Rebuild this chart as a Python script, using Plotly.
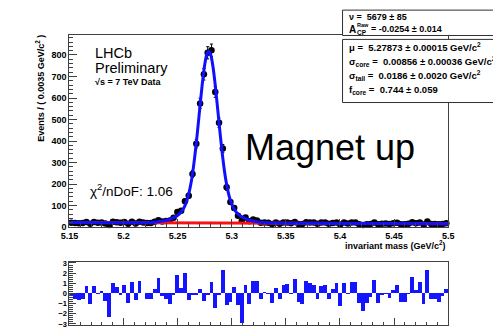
import plotly.graph_objects as go

W, H = 493, 330

# ---------------- data ----------------
bin_lo = 5.15
bin_width = 0.0035
counts = [20, 19, 18, 19, 24, 16, 24, 20, 22, 17,
          10, 25, 23, 20, 24, 16, 25, 17, 25, 21,
          19, 19, 25, 32, 26, 28, 31, 44, 70, 76,
          120, 146, 247, 388, 575, 710, 810, 822, 628, 485,
          365, 185, 117, 89, 53, 28, 45, 27, 35, 31,
          20, 21, 20, 15, 21, 16, 22, 22, 18, 24,
          15, 14, 23, 22, 21, 16, 21, 21, 16, 19,
          22, 12, 22, 17, 22, 22, 13, 10, 13, 15,
          22, 13, 16, 17, 15, 18, 20, 13, 13, 16,
          23, 18, 21, 12, 26, 14, 14, 13, 15, 18]
residuals = [-0.15, -0.5, -0.6, -0.5, 0.75, -1.0, 0.75, -0.1, 0.25, -0.7,
             -2.3, 1.0, 0.65, -0.15, 0.85, -0.9, 1.1, -0.65, 1.2, 0.0,
             -0.55, -0.5, 0.4, 1.5, -0.3, -0.5, -1.0, -0.15, 1.8, 0.5,
             2.0, -0.65, -0.15, -0.15, 0.4, -0.7, -0.2, 1.15, -1.45, -0.15,
             2.35, -1.1, -0.8, 0.65, -1.1, -2.9, 0.8, -1.0, 1.2, 1.2,
             -0.5, 0.15, -0.05, -0.9, 0.5, -0.5, 0.8, 0.9, -0.1, 1.4,
             -0.8, -1.0, 1.2, 1.0, 0.8, -0.5, 0.7, 0.8, -0.5, 0.4,
             1.05, -1.25, 1.05, -0.1, 1.1, 1.1, -0.9, -1.7, -0.9, -0.4,
             1.3, -0.9, -0.15, -0.05, -0.45, 0.3, 0.8, -0.8, -0.8, -0.05,
             1.6, 0.3, 1.15, -1.0, 2.35, -0.55, -0.55, -0.8, -0.3, 0.4]
centers = [bin_lo + bin_width * (i + 0.5) for i in range(len(counts))]
errors = [c ** 0.5 for c in counts]

fit_x = [5.15, 5.18, 5.21, 5.2187, 5.2237, 5.2287, 5.2337, 5.2387, 5.2427, 5.2467,
         5.2507, 5.2527, 5.2547, 5.2567, 5.2587, 5.2607, 5.2627, 5.2647, 5.2667, 5.2687,
         5.2707, 5.2727, 5.2747, 5.2767, 5.2787, 5.2807, 5.2827, 5.2847, 5.2867, 5.2887,
         5.2907, 5.2927, 5.2947, 5.2967, 5.2987, 5.3007, 5.3027, 5.3047, 5.3067, 5.3107,
         5.3147, 5.3187, 5.3237, 5.3287, 5.3337, 5.3387, 5.36, 5.40, 5.45, 5.5]
fit_y = [21.0, 20.6, 20.1, 20.6, 21.3, 22.7, 25.7, 30.5, 36.5, 45.1,
         57.6, 67.4, 80.5, 99.1, 125.4, 163.4, 214.4, 282.4, 366.3, 462.3,
         564.3, 662.2, 744.2, 798.2, 817.1, 798.1, 744.1, 662.0, 564.0, 462.0,
         366.0, 281.9, 213.9, 162.9, 124.8, 98.4, 79.8, 66.7, 56.7, 44.2,
         35.4, 29.4, 24.4, 21.3, 19.8, 18.9, 18.0, 17.4, 16.7, 16.0]
bkg_x = [5.15, 5.5]
bkg_y = [21.0, 16.0]

x_tickvals = [5.15, 5.2, 5.25, 5.3, 5.35, 5.4, 5.45, 5.5]
x_ticktext = ["5.15", "5.2", "5.25", "5.3", "5.35", "5.4", "5.45", "5.5"]
y_tickvals = [0, 100, 200, 300, 400, 500, 600, 700, 800]
r_tickvals = [-3, -2, -1, 0, 1, 2, 3]

# ---------------- helpers (layout) ----------------
def px(x):
    return x / W

def py(y):
    return 1 - y / H

FONT = "Liberation Sans, Arial, Helvetica, sans-serif"
tickfont = dict(family=FONT, size=9, color="black", weight="bold")
FRAME = "#404040"

fig = go.Figure()

fig.add_trace(go.Scatter(
    x=centers, y=counts, mode="markers",
    marker=dict(color="black", size=6.5),
    error_y=dict(type="data", array=errors, color="black", thickness=1, width=1.5),
    xaxis="x", yaxis="y", showlegend=False, cliponaxis=False))
fig.add_trace(go.Scatter(
    x=bkg_x, y=bkg_y, mode="lines", line=dict(color="#ff1010", width=3),
    xaxis="x", yaxis="y", showlegend=False))
fig.add_trace(go.Scatter(
    x=fit_x, y=fit_y, mode="lines", line=dict(color="#1010ff", width=3, shape="spline", smoothing=0.6),
    xaxis="x", yaxis="y", showlegend=False))

fig.add_trace(go.Bar(
    x=centers, y=residuals, width=bin_width,
    marker=dict(color="#1414ff", line=dict(width=0)),
    xaxis="x2", yaxis="y2", showlegend=False))

xd = [px(62.3), px(453)]
common_axis = dict(showgrid=False, zeroline=False, showline=True, linecolor=FRAME,
                   linewidth=1, mirror=True, ticks="inside", tickcolor=FRAME,
                   tickfont=tickfont)

fig.update_layout(
    width=W, height=H,
    margin=dict(l=0, r=0, t=0, b=0),
    paper_bgcolor="white", plot_bgcolor="white",
    bargap=0, hovermode=False,
    xaxis=dict(domain=xd, range=[5.15, 5.5], anchor="y",
               tickmode="array", tickvals=x_tickvals, ticktext=x_ticktext, ticklen=8,
               minor=dict(tickmode="linear", tick0=5.15, dtick=0.01, ticklen=4,
                          ticks="inside", tickcolor=FRAME),
               **common_axis),
    yaxis=dict(domain=[py(229.7), py(32.3)], range=[0, 895], anchor="x",
               tickmode="array", tickvals=y_tickvals, ticklen=8,
               minor=dict(tickmode="linear", tick0=0, dtick=20, ticklen=4,
                          ticks="inside", tickcolor=FRAME),
               **common_axis),
    xaxis2=dict(domain=xd, range=[5.15, 5.5], anchor="y2", showticklabels=False,
                tickmode="array", tickvals=x_tickvals, ticklen=7,
                minor=dict(tickmode="linear", tick0=5.15, dtick=0.01, ticklen=3,
                           ticks="inside", tickcolor=FRAME),
                **common_axis),
    yaxis2=dict(domain=[0, py(265)], range=[-3.11, 3.14], anchor="x2",
                tickmode="array", tickvals=r_tickvals, ticklen=7,
                tickfont=dict(family=FONT, size=7.5, color="black", weight="bold"),
                minor=dict(tickmode="linear", tick0=0, dtick=0.2, ticklen=4,
                           ticks="inside", tickcolor=FRAME),
                **{k: v for k, v in common_axis.items() if k != "tickfont"}),
)

# stat boxes
for (y0, y1) in [(7.3, 33.3), (37.3, 102)]:
    fig.add_shape(type="rect", xref="paper", yref="paper",
                  x0=px(344), x1=px(500), y0=py(y1), y1=py(y0),
                  fillcolor="white", line=dict(color="#303030", width=1), layer="above")

def ann(text, x, y, size, xanchor="left", yanchor="middle", weight="normal", angle=0):
    fig.add_annotation(text=text, x=px(x), y=py(y), xref="paper", yref="paper",
                       xanchor=xanchor, yanchor=yanchor, showarrow=False,
                       textangle=angle,
                       font=dict(family=FONT, size=size, color="black", weight=weight))

ann("ν =  5679 ± 85", 349, 14, 9, weight="bold")
ann("A", 349, 27.5, 10, weight="bold")
ann("Raw", 356.5, 22.5, 5.5, weight="bold")
ann("CP", 356.5, 30, 6.5, weight="bold")
ann("= -0.0254 ± 0.014", 371, 27, 9, weight="bold")
ann("μ =  5.27873 ± 0.00015 GeV/c<sup>2</sup>", 349, 45.5, 9.5, weight="bold")
ann("σ<sub>core</sub> =  0.00856 ± 0.00036 GeV/c<sup>2</sup>", 349, 60, 9.5, weight="bold")
ann("σ<sub>tail</sub> =  0.0186 ± 0.0020 GeV/c<sup>2</sup>", 349, 74.5, 9.5, weight="bold")
ann("f<sub>core</sub> =  0.744 ± 0.059", 349, 89, 9.5, weight="bold")

ann("LHCb", 87, 51.5, 14.5)
ann("Preliminary", 87, 66.5, 14.5)
ann("√s = 7 TeV Data", 87, 81, 9, weight="bold")
ann("χ<sup>2</sup>/nDoF: 1.06", 81, 192, 13.5)
ann("Magnet up", 241, 148, 36)

ann("invariant mass (GeV/c<sup>2</sup>)", 453, 248.5, 9, xanchor="right", weight="bold")
ann("Events / ( 0.0035 GeV/c<sup>2</sup> )", 32, 31, 9, xanchor="center", yanchor="top",
    weight="bold", angle=-90)

fig.write_html("out.html",
               config={"displayModeBar": False, "staticPlot": True},
               post_script="document.body.style.margin='0px';document.body.style.padding='0px';")
